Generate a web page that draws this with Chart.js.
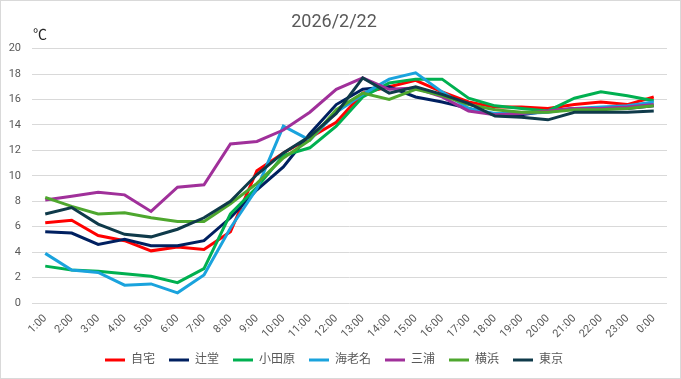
<!DOCTYPE html>
<html>
<head>
<meta charset="utf-8">
<script src="https://cdn.jsdelivr.net/npm/chart.js@4/dist/chart.umd.min.js"></script>
<style>
html,body{margin:0;padding:0;background:#fff;}
#wrap{position:relative;width:681px;height:379px;box-sizing:border-box;border:1px solid #d9d9d9;}
canvas{display:block;}
</style>
</head>
<body>
<div id="wrap"><canvas id="c" width="679" height="377"></canvas></div>
<script>
const hours = ['1:00','2:00','3:00','4:00','5:00','6:00','7:00','8:00','9:00','10:00','11:00','12:00','13:00','14:00','15:00','16:00','17:00','18:00','19:00','20:00','21:00','22:00','23:00','0:00'];
const seriesNames = ['自宅','辻堂','小田原','海老名','三浦','横浜','東京'];
const jitaku   = [6.3, 6.5, 5.3, 4.9, 4.1, 4.4, 4.2, 5.6, 10.4, 11.8, 13.0, 14.2, 16.5, 17.0, 17.5, 16.6, 15.8, 15.4, 15.4, 15.3, 15.6, 15.8, 15.6, 16.2];
const tsujido  = [5.6, 5.5, 4.6, 5.0, 4.5, 4.5, 4.9, 6.7, 8.9, 10.7, 13.3, 15.6, 16.8, 17.0, 16.2, 15.8, 15.3, 14.8, 14.8, 15.1, 15.3, 15.3, 15.3, 15.5];
const odawara  = [2.9, 2.6, 2.5, 2.3, 2.1, 1.6, 2.7, 7.0, 9.1, 11.6, 12.2, 13.9, 16.2, 17.3, 17.6, 17.6, 16.1, 15.5, 15.3, 15.1, 16.1, 16.6, 16.3, 15.9];
const ebina    = [3.9, 2.6, 2.4, 1.4, 1.5, 0.8, 2.2, 5.9, 9.0, 13.9, 12.8, 15.0, 16.4, 17.6, 18.1, 16.6, 15.3, 14.9, 14.9, 15.0, 15.3, 15.4, 15.5, 15.8];
const miura    = [8.1, 8.4, 8.7, 8.5, 7.2, 9.1, 9.3, 12.5, 12.7, 13.6, 15.0, 16.8, 17.7, 16.8, 16.9, 16.2, 15.1, 14.8, 14.9, 15.1, 15.3, 15.3, 15.4, 15.6];
const yokohama = [8.3, 7.6, 7.0, 7.1, 6.7, 6.4, 6.4, 7.8, 9.4, 11.4, 12.8, 15.2, 16.5, 16.0, 16.8, 16.3, 15.6, 15.2, 15.0, 15.0, 15.2, 15.2, 15.3, 15.5];
const tokyo    = [7.0, 7.5, 6.2, 5.4, 5.2, 5.8, 6.7, 8.0, 10.1, 11.8, 13.1, 14.9, 17.7, 16.5, 17.0, 16.4, 15.7, 14.7, 14.6, 14.4, 15.0, 15.0, 15.0, 15.1];
const seriesValues = [jitaku, tsujido, odawara, ebina, miura, yokohama, tokyo];
const seriesColors = ['#FF0000','#002060','#00B050','#1AA3DD','#A0309A','#4EA72E','#0F3A4A'];
const yTicks = [0,2,4,6,8,10,12,14,16,18,20];
const titleText = '2026/2/22';
const unitText = '℃';

const FONT = 'Roboto, "Noto Sans CJK JP", sans-serif';

const datasets = seriesNames.map((n,i)=>({
  label: n,
  data: seriesValues[i],
  borderColor: seriesColors[i],
  backgroundColor: seriesColors[i],
  borderWidth: 3,
  pointRadius: 0,
  pointHoverRadius: 0,
  tension: 0,
  order: seriesNames.length - i
}));

const unitPlugin = {
  id: 'unit',
  afterDraw(chart){
    const ctx = chart.ctx, a = chart.chartArea;
    ctx.save();
    ctx.fillStyle = '#262626';
    ctx.font = '14px ' + FONT;
    ctx.textAlign = 'left';
    ctx.textBaseline = 'middle';
    ctx.fillText(unitText, a.left + 1, a.top - 13);
    ctx.restore();
  }
};

new Chart(document.getElementById('c'), {
  type: 'line',
  data: { labels: hours, datasets },
  plugins: [unitPlugin],
  options: {
    responsive: false,
    animation: false,
    layout: { padding: { left: 0, right: 13, top: 0, bottom: 2 } },
    plugins: {
      title: { display: true, text: titleText, color: '#595959',
        font: { family: FONT, size: 18, weight: 'normal' }, padding: { top: 11, bottom: 15 } },
      legend: { position: 'bottom',
        labels: { color: '#595959', font: { family: FONT, size: 12 },
          usePointStyle: true, pointStyle: 'line', pointStyleWidth: 20, boxHeight: 12,
          padding: 14,
          sort: (a,b) => a.datasetIndex - b.datasetIndex } },
      tooltip: { enabled: false }
    },
    scales: {
      x: {
        offset: true,
        grid: { display: false, drawTicks: false },
        border: { display: false },
        afterFit: (s) => { s.height = 37; },
        ticks: { color: '#595959', font: { family: FONT, size: 11 }, maxRotation: 45, minRotation: 45, autoSkip: false, padding: 9 }
      },
      y: {
        min: 0, max: 20,
        afterBuildTicks: (s) => { s.ticks = yTicks.map(v => ({ value: v })); },
        afterFit: (s) => { s.width = 31; },
        grid: { color: '#d9d9d9', lineWidth: 1, drawTicks: false },
        border: { display: false },
        ticks: { color: '#595959', font: { family: FONT, size: 11 }, padding: 11 }
      }
    }
  }
});
</script>
</body>
</html>
